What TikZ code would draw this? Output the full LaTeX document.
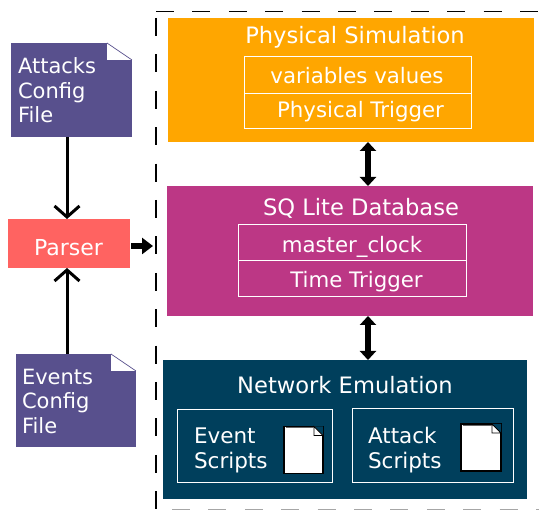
\documentclass[tikz,border=0pt]{standalone}
\usepackage{fontspec}
\setmainfont{DejaVu Sans}
\usetikzlibrary{arrows.meta}
\definecolor{orange_sim}{HTML}{FFA600}
\definecolor{magenta_db}{HTML}{BC3785}
\definecolor{navy_net}{HTML}{003F5C}
\definecolor{purple_file}{HTML}{58508D}
\definecolor{red_parser}{HTML}{FF6361}
\tikzset{
    block/.style = {anchor = north west, inner sep = 0pt, outer sep = 0pt},
    title/.style = {text = white, font = \fontsize{22.6}{27}\selectfont},
    inbox/.style = {block, draw = white, line width = 1pt, text = white, font = \fontsize{21}{25}\selectfont},
    boxtext/.style = {text = white, font = \fontsize{21.3}{25}\selectfont},
    configfile/.style = {block, fill = purple_file},
    configtext/.style = {text = white, align = left, anchor = west, font = \fontsize{21}{24.5}\selectfont},
    scriptlabel/.style = {text = white, align = left, anchor = west, font = \fontsize{21.5}{25}\selectfont},
    scriptfile/.style = {block, fill = white, draw = black, line width = 1.2pt},
    thin_arrow/.style = {line width = 3pt, -{Straight Barb[length = 11pt, width = 25pt, line width = 3pt]}},
    block_arrow/.style = {line width = 6pt, -{Triangle[length = 11pt, width = 16pt]}},
    both_arrow/.style = {line width = 6pt, {Triangle[length = 9pt, width = 16pt]}-{Triangle[length = 9pt, width = 16pt]}}
}
\begin{document}
\begin{tikzpicture}[x = 1pt, y = -1pt]

        \useasboundingbox (0,0) rectangle (539,510);

        % dashed frame
        \coordinate (frame_tl) at (156,11.5);
        \coordinate (frame_tr) at (539,11.5);
        \coordinate (frame_lt) at (156,18);
        \coordinate (frame_bl) at (156,510);
        \coordinate (frame_bs) at (172,509.5);
        \coordinate (frame_br) at (539,509.5);
        \draw[line width = 1.2pt, dash pattern = on 18pt off 18.4pt] (frame_tl) -- (frame_tr);
        \draw[line width = 1.2pt, dash pattern = on 18pt off 18.4pt] (frame_lt) -- (frame_bl);
        \draw[line width = 1pt, black!35, dash pattern = on 18pt off 18.4pt] (frame_bs) -- (frame_br);

        % three main blocks
        \node (sim)[block, fill = orange_sim, minimum width = 366pt, minimum height = 124pt] at (168,18) {};
        \node (db)[block, fill = magenta_db, minimum width = 366pt, minimum height = 130pt] at (167,186) {};
        \node (net)[block, fill = navy_net, minimum width = 364pt, minimum height = 139pt] at (163,360) {};

        \node (sim_title)[title] at (355,37.5) {Physical Simulation};
        \node (db_title)[title] at (361,208) {SQ Lite Database};
        \node (net_title)[title] at (345,385) {Network Emulation};

        \node (values)[inbox, minimum width = 227pt, minimum height = 37pt] at (244,57) {};
        \node (ptrigger)[inbox, minimum width = 227pt, minimum height = 35pt] at (244,94) {};
        \node (clock)[inbox, minimum width = 228pt, minimum height = 36pt] at (238,225) {};
        \node (ttrigger)[inbox, minimum width = 228pt, minimum height = 36pt] at (238,261) {};
        \node (values_text)[boxtext] at (357,76) {variables values};
        \node (ptrigger_text)[boxtext] at (360.5,111.5) {Physical Trigger};
        \node (clock_text)[boxtext] at (352,247) {master\_clock};
        \node (ttrigger_text)[boxtext] at (356.5,282) {Time Trigger};

        \node (event_box)[inbox, minimum width = 155pt, minimum height = 73pt] at (177,410) {};
        \node (attack_box)[inbox, minimum width = 161pt, minimum height = 74pt] at (352,409) {};
        \node (event_text)[scriptlabel] at (190.5,450) {Event\\Scripts};
        \node (attack_text)[scriptlabel] at (364.5,450) {Attack\\Scripts};

        % small script files
        \node (event_file)[scriptfile, minimum width = 39pt, minimum height = 47pt] at (284,426.5) {};
        \node (attack_file)[scriptfile, minimum width = 40pt, minimum height = 47pt] at (461,424) {};
        \foreach \f in {event_file, attack_file} {
            \fill[navy_net] ([xshift = -9pt]\f.north east) -- (\f.north east) -- ([yshift = -9pt]\f.north east) -- cycle;
            \draw[black, line width = 0.8pt, fill = white] ([xshift = -9pt]\f.north east) -- ([xshift = -9pt, yshift = -9pt]\f.north east) -- ([yshift = -9pt]\f.north east) -- cycle;
            \draw[black!60, line width = 1.2pt] ([xshift = 1.5pt, yshift = -1.2pt]\f.north west) -- ([xshift = -9pt, yshift = -1.2pt]\f.north east);
        }

        % config files and parser
        \node (attacks)[configfile, minimum width = 121pt, minimum height = 94pt] at (11,43) {};
        \node (attacks_text)[configtext] at (14.5,90.5) {Attacks\\Config\\File};
        \node (events)[configfile, minimum width = 120pt, minimum height = 93pt] at (16,354) {};
        \node (events_text)[configtext] at (18.5,401) {Events\\Config\\File};
        \foreach \f in {attacks, events} {
            \fill[white] ([xshift = -25pt]\f.north east) rectangle ([yshift = -17pt]\f.north east);
            \draw[purple_file, line width = 0.7pt] ([xshift = -25pt]\f.north east) -- ([yshift = -17pt]\f.north east);
        }
        \node (parser)[block, fill = red_parser, minimum width = 122pt, minimum height = 49pt] at (8,219) {};
        \node (parser_text)[text = white, font = \fontsize{22}{26}\selectfont] at (68.5,247.5) {Parser};

        \coordinate (parser_in) at (153,246);

        \path ([xshift = -4.5pt]attacks.south) edge[thin_arrow] ([xshift = -2pt]parser.north);
        \path ([xshift = -9pt]events.north) edge[thin_arrow] ([xshift = -2pt]parser.south);
        \path ([xshift = 1pt]parser.east |- parser_in) edge[block_arrow] (parser_in);
        \path (sim.south -| 368,0) edge[both_arrow] (db.north -| 368,0);
        \path (db.south -| 368,0) edge[both_arrow] (net.north -| 368,0);
    \end{tikzpicture}
\end{document}
